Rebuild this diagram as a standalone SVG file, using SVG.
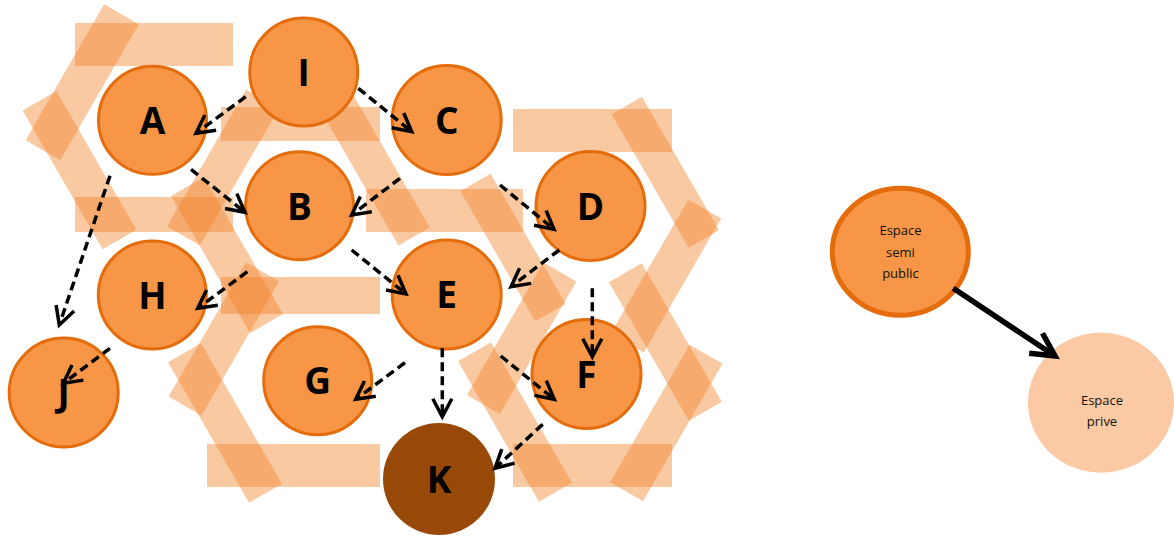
<svg xmlns="http://www.w3.org/2000/svg" width="1174" height="538" viewBox="0 0 1174 538">
  <style>
    .bar { fill: #F08228; fill-opacity: 0.43; }
    .node { fill: #F79646; stroke: #E46C0A; stroke-width: 3; }
    .lbl { font-family: "Open Sans", "Liberation Sans", sans-serif; font-weight: 700; font-size: 37px; fill: #000; text-anchor: middle; }
    .small { font-family: "Open Sans", "Liberation Sans", sans-serif; font-size: 13px; fill: #111; text-anchor: middle; }
    .dash { fill: none; stroke: #000; stroke-width: 3.5; stroke-dasharray: 9 5; }
  </style>
  <defs>
    <marker id="arr" markerUnits="userSpaceOnUse" viewBox="-24 -14 28 28" refX="0" refY="0" markerWidth="28" markerHeight="28" orient="auto" overflow="visible">
      <path d="M -18 -9.5 L 0 0 L -18 9.5" fill="none" stroke="#000" stroke-width="3.5" stroke-dasharray="none" stroke-linejoin="miter"/>
    </marker>
    <marker id="arrBig" markerUnits="userSpaceOnUse" viewBox="-30 -16 34 32" refX="0" refY="0" markerWidth="34" markerHeight="32" orient="auto" overflow="visible">
      <path d="M -23 -12 L 0 0 L -23 12" fill="none" stroke="#000" stroke-width="5.5" stroke-linejoin="miter"/>
    </marker>
  </defs>

  <g id="background">
    <rect class="bar" x="75" y="23" width="158" height="43"/>
    <rect class="bar" x="75" y="197" width="158" height="35"/>
    <rect class="bar" x="221" y="107" width="159" height="34"/>
    <rect class="bar" x="366" y="189" width="157" height="43"/>
    <rect class="bar" x="513" y="109" width="159" height="43"/>
    <rect class="bar" x="221" y="277" width="159" height="37"/>
    <rect class="bar" x="207" y="444" width="173" height="43"/>
    <rect class="bar" x="513" y="444" width="159" height="43"/>

    <rect class="bar" x="-78.5" y="-20" width="157" height="40" transform="translate(82.2 82.3) rotate(-60)"/>
    <rect class="bar" x="-80" y="-19.5" width="160" height="39" transform="translate(79.5 170.1) rotate(60)"/>
    <rect class="bar" x="-79" y="-19" width="158" height="38" transform="translate(223 167.5) rotate(-60)"/>
    <rect class="bar" x="-79" y="-19" width="158" height="38" transform="translate(227 255) rotate(60)"/>
    <rect class="bar" x="-79" y="-18" width="158" height="36" transform="translate(374.6 168) rotate(60)"/>
    <rect class="bar" x="-77.5" y="-19" width="155" height="38" transform="translate(223.8 339) rotate(-60)"/>
    <rect class="bar" x="-81" y="-19" width="162" height="38" transform="translate(225 423) rotate(60)"/>
    <rect class="bar" x="-75" y="-17.5" width="150" height="35" transform="translate(513 247.5) rotate(60)"/>
    <rect class="bar" x="-76.5" y="-19" width="153" height="38" transform="translate(521.7 338.3) rotate(-60)"/>
    <rect class="bar" x="-81" y="-19" width="162" height="38" transform="translate(515 422) rotate(60)"/>
    <rect class="bar" x="-77" y="-17.5" width="154" height="35" transform="translate(665.3 172.3) rotate(60)"/>
    <rect class="bar" x="-77.5" y="-19" width="155" height="38" transform="translate(666 276) rotate(-60)"/>
    <rect class="bar" x="-80" y="-19" width="160" height="38" transform="translate(665.3 342) rotate(60)"/>
    <rect class="bar" x="-79.5" y="-19" width="159" height="38" transform="translate(666.3 423) rotate(-60)"/>
  </g>

  <g id="node-I"><circle class="node" cx="303.7" cy="72" r="54"/><text class="lbl" x="303.7" y="85.5">I</text></g>
  <g id="node-A"><circle class="node" cx="152.5" cy="120.3" r="54"/><text class="lbl" x="152.5" y="134">A</text></g>
  <g id="node-C"><circle class="node" cx="446.7" cy="120" r="54.5"/><text class="lbl" x="446.7" y="133.5">C</text></g>
  <g id="node-B"><circle class="node" cx="299.5" cy="205.7" r="54"/><text class="lbl" x="299.5" y="219.5">B</text></g>
  <g id="node-D"><circle class="node" cx="590.5" cy="206" r="54.5"/><text class="lbl" x="590.5" y="219.5">D</text></g>
  <g id="node-H"><circle class="node" cx="152.3" cy="295" r="54"/><text class="lbl" x="152.3" y="308.5">H</text></g>
  <g id="node-E"><circle class="node" cx="446.7" cy="294.5" r="54.5"/><text class="lbl" x="446.7" y="308">E</text></g>
  <g id="node-J"><circle class="node" cx="63.7" cy="392.5" r="54.5"/><text class="lbl" x="63.7" y="406">J</text></g>
  <g id="node-G"><circle class="node" cx="317.7" cy="380.7" r="54"/><text class="lbl" x="317.7" y="394">G</text></g>
  <g id="node-F"><circle class="node" cx="586.5" cy="374" r="54.5"/><text class="lbl" x="586.5" y="387.5">F</text></g>
  <g id="node-K"><circle cx="439" cy="479" r="56" fill="#984807"/><text class="lbl" x="439" y="492.5">K</text></g>

  <g id="node-semi-public">
    <ellipse cx="900.3" cy="251.7" rx="68" ry="63.5" fill="#F79646" stroke="#E46C0A" stroke-width="5"/>
    <text class="small" x="900.5" y="235">Espace</text>
    <text class="small" x="900.5" y="256.5">semi</text>
    <text class="small" x="900.5" y="278">public</text>
  </g>
  <g id="node-prive">
    <ellipse cx="1101" cy="402.7" rx="73" ry="70" fill="#FBC9A3"/>
    <text class="small" x="1102" y="404.5">Espace</text>
    <text class="small" x="1102" y="426">prive</text>
  </g>

  <g id="connectors">
    <line class="dash" x1="245.7" y1="96.7" x2="196" y2="133.3" marker-end="url(#arr)"/>
    <line class="dash" x1="358.3" y1="88.3" x2="411.7" y2="131.7" marker-end="url(#arr)"/>
    <line class="dash" x1="191" y1="169.3" x2="245" y2="212.3" marker-end="url(#arr)"/>
    <line class="dash" x1="400" y1="178.3" x2="351.7" y2="215" marker-end="url(#arr)"/>
    <line class="dash" x1="500" y1="185" x2="554" y2="229.3" marker-end="url(#arr)"/>
    <line class="dash" x1="559.3" y1="250" x2="511" y2="286.7" marker-end="url(#arr)"/>
    <line class="dash" x1="351.7" y1="250" x2="406" y2="294" marker-end="url(#arr)"/>
    <line class="dash" x1="110" y1="175.7" x2="59.3" y2="325" marker-end="url(#arr)"/>
    <line class="dash" x1="247.3" y1="271.7" x2="197.7" y2="308.3" marker-end="url(#arr)"/>
    <line class="dash" x1="110" y1="348.3" x2="63.3" y2="383.3" marker-end="url(#arr)"/>
    <line class="dash" x1="405" y1="362.7" x2="355.7" y2="399.3" marker-end="url(#arr)"/>
    <line class="dash" x1="442.3" y1="348.3" x2="442.3" y2="416.7" marker-end="url(#arr)"/>
    <line class="dash" x1="500.7" y1="356" x2="554.3" y2="399.3" marker-end="url(#arr)"/>
    <line class="dash" x1="592.3" y1="288.3" x2="592.3" y2="356.7" marker-end="url(#arr)"/>
    <line class="dash" x1="542.7" y1="424.3" x2="495" y2="468.3" marker-end="url(#arr)"/>
    <line x1="953.3" y1="288.3" x2="1055" y2="356" stroke="#000" stroke-width="5.5" marker-end="url(#arrBig)"/>
  </g>
</svg>
